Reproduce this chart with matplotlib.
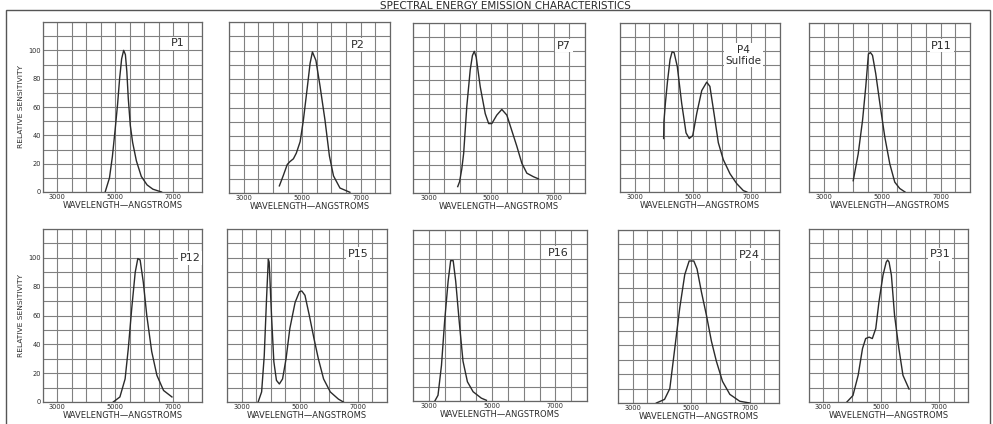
import matplotlib
matplotlib.use("Agg")
import matplotlib.pyplot as plt
from matplotlib.patches import Rectangle

# phosphor names, in reading order
phosphors = ["P1", "P2", "P7", "P4\nSulfide", "P11",
             "P12", "P15", "P16", "P24", "P31"]

# wavelength (angstrom) / relative sensitivity
p1_x = [4650, 4800, 4900, 5000, 5080, 5150, 5220, 5290, 5350, 5400, 5450, 5520, 5600, 5730, 5900, 6100, 6300, 6600]
p1_y = [0, 10, 25, 45, 62, 80, 94, 100, 97, 85, 66, 47, 35, 22, 11, 5, 2, 0]

p2_x = [4220, 4350, 4490, 4580, 4700, 4800, 4930, 5040, 5180, 5270, 5350, 5470, 5610, 5780, 5930, 6070, 6290, 6630]
p2_y = [5, 12, 20, 22, 24, 28, 36, 51, 75, 91, 99, 93, 75, 51, 26, 12, 3.5, 0.5]

p7_x = [3930, 3990, 4060, 4120, 4220, 4330, 4400, 4460, 4520, 4650, 4810, 4920, 5020, 5180, 5340, 5500, 5660, 5820, 5980, 6140, 6350, 6510]
p7_y = [4.5, 8, 17, 28, 61, 87, 97, 100, 96, 75, 56, 49, 49, 55, 59, 55, 44, 33, 21, 14, 11.5, 10]

p4_x = [4000, 4010, 4060, 4130, 4220, 4290, 4360, 4470, 4620, 4770, 4880, 5000, 5140, 5310, 5480, 5590, 5730, 5880, 6050, 6280, 6510, 6740, 6860]
p4_y = [38, 50, 63, 78, 94, 99.5, 99, 89, 63, 42, 38, 40, 56, 72, 78, 75, 56, 35, 23, 13, 6, 1, 0]

p11_x = [4010, 4180, 4330, 4440, 4530, 4600, 4670, 4780, 4920, 5090, 5260, 5430, 5600, 5780]
p11_y = [8, 27, 51, 75, 98, 99, 97, 84, 63, 39, 20, 7, 2.5, 0]

p12_x = [4930, 5160, 5340, 5450, 5570, 5690, 5780, 5860, 5970, 6090, 6260, 6440, 6670, 6960]
p12_y = [0, 3.5, 16, 37, 65, 90, 99.5, 98.5, 83, 60, 35, 18.5, 8, 3.5]

p15_x = [3570, 3690, 3780, 3860, 3920, 3950, 4030, 4110, 4200, 4300, 4410, 4530, 4660, 4840, 4990, 5070, 5180, 5330, 5490, 5640, 5820, 6050, 6330, 6500]
p15_y = [0, 7, 32, 72, 99, 97, 60, 28, 15, 12.5, 16, 30, 51, 69, 76.5, 77, 74, 60, 44, 30, 16, 7, 2, 0]

p16_x = [3190, 3290, 3400, 3500, 3610, 3690, 3770, 3850, 3960, 4080, 4220, 4400, 4660, 4820]
p16_y = [0, 4, 25, 56, 84, 98.5, 98.5, 84, 56, 28, 13.5, 6.5, 2, 0.5]

p24_x = [3810, 4090, 4270, 4440, 4610, 4780, 4930, 5090, 5200, 5350, 5520, 5690, 5860, 6070, 6320, 6660, 7000]
p24_y = [0, 2.5, 10, 38, 66, 89, 98.5, 98.5, 93, 77, 61, 43, 29, 15, 6, 1.2, 0]

p31_x = [3810, 4020, 4200, 4350, 4460, 4580, 4690, 4810, 4920, 5060, 5170, 5220, 5270, 5350, 5460, 5610, 5750, 5960]
p31_y = [0, 4.5, 18.5, 37, 44, 45, 44, 51, 69.5, 88, 97, 98.5, 97, 88, 60, 37, 18.5, 9]

curves_x = [p1_x, p2_x, p7_x, p4_x, p11_x, p12_x, p15_x, p16_x, p24_x, p31_x]
curves_y = [p1_y, p2_y, p7_y, p4_y, p11_y, p12_y, p15_y, p16_y, p24_y, p31_y]

# where each panel's name sits (data coords)
label_x = [7150, 6900, 7330, 6740, 7030, 7590, 7010, 7080, 6980, 7030]
label_y = [105, 104, 104, 97, 104, 100, 103, 104, 103, 102.5]

x_grid = list(range(2500, 8001, 500))
y_grid = list(range(0, 121, 10))
x_labeled = [3000, 5000, 7000]
y_labeled = [0, 20, 40, 60, 80, 100]

# panel boxes in pixels: left, right, top, bottom
boxes = [(43, 202, 22, 192), (229, 390, 22, 193), (413, 585, 23, 193), (620, 780, 23, 192), (809, 970, 23, 192),
         (43, 202, 229, 402), (227, 387, 229, 402), (413, 587, 230, 401), (618, 779, 230, 403), (809, 968, 229, 402)]

W, H = 993, 424
ink = "#2b2b2b"
gridc = "#808080"

fig = plt.figure(figsize=(W / 100, H / 100), dpi=100)
fig.patch.set_facecolor("white")

for i, name in enumerate(phosphors):
    l, r, t, b = boxes[i]
    ax = fig.add_axes([l / W, 1 - b / H, (r - l) / W, (b - t) / H])
    ax.plot(curves_x[i], curves_y[i], color=ink, lw=1.0, zorder=3)
    ax.set_xlim(2500, 8000)
    ax.set_ylim(0, 120)
    ax.set_xticks(x_grid)
    ax.set_xticklabels([str(v) if v in x_labeled else "" for v in x_grid])
    ax.set_yticks(y_grid)
    if i % 5 == 0:
        ax.set_yticklabels([str(v) if v in y_labeled else "" for v in y_grid])
        ax.set_ylabel("RELATIVE SENSITIVITY", fontsize=5.4, color=ink, labelpad=3)
    else:
        ax.set_yticklabels([])
    ax.tick_params(length=0, labelsize=4.8, labelcolor=ink, pad=1.5)
    ax.grid(True, color=gridc, lw=0.8)
    ax.set_axisbelow(True)
    for s in ax.spines.values():
        s.set_color("#666666")
        s.set_linewidth(0.9)
    ax.set_xlabel("WAVELENGTH\u2014ANGSTROMS", fontsize=6, color=ink, labelpad=1)
    ax.text(label_x[i], label_y[i], name, fontsize=8 if i != 3 else 7.5, color=ink,
            ha="center", va="center", linespacing=1.1, zorder=4,
            bbox=dict(facecolor="white", edgecolor="none", pad=1.2))

# outer frame and the heading above it
fig.add_artist(Rectangle((6 / W, -0.05), (990 - 6) / W, 1.05 - 10 / H, transform=fig.transFigure,
                         fill=False, edgecolor="#555555", lw=1.0))
fig.text(505 / W, 1 - 8.6 / H, "SPECTRAL ENERGY EMISSION CHARACTERISTICS",
         fontsize=7.5, color=ink, ha="center", va="baseline")

plt.savefig("out.png", dpi=100)
